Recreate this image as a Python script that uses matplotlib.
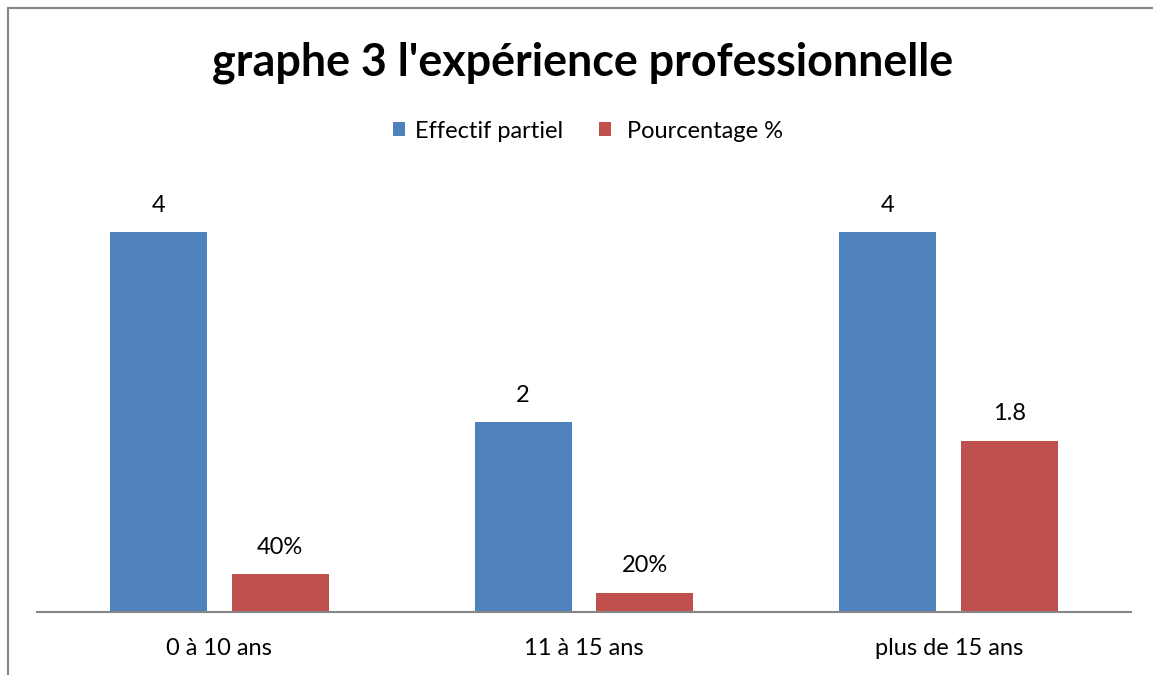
import numpy as np
import matplotlib.pyplot as plt
from matplotlib.lines import Line2D

# --- DATA ----------------------------------------------------------
categories = ["0 à 10 ans", "11 à 15 ans", "plus de 15 ans"]
effectif = [4, 2, 4]
pourcentage = [0.4, 0.2, 1.8]
effectif_labels = ["4", "2", "4"]
pourcentage_labels = ["40%", "20%", "1.8"]

# --- PLOT ----------------------------------------------------------
plt.rcParams['font.family'] = ['Lato', 'DejaVu Sans']

fig = plt.figure(figsize=(11.53, 6.75), dpi=100)
ax = fig.add_axes([37/1153, 1 - 612/675, (1131-37)/1153, (612-184.5)/675])

x = np.arange(len(categories))
w = 0.266
off = 0.167
blue = "#4F81BD"
red = "#C0504D"

b1 = ax.bar(x - off, effectif, w, color=blue, label="Effectif partiel")
b2 = ax.bar(x + off, pourcentage, w, color=red, label=" Pourcentage %")

for bars, labels in [(b1, effectif_labels), (b2, pourcentage_labels)]:
    for bar, lab in zip(bars, labels):
        ax.annotate(lab, (bar.get_x() + bar.get_width()/2, bar.get_height()),
                    xytext=(0, 27), textcoords="offset pixels",
                    ha="center", va="center", fontsize=17)

ax.set_xlim(-0.5, 2.5)
ax.set_ylim(0, 4.5)
ax.set_xticks(x)
ax.set_xticklabels(categories, fontsize=17)
ax.tick_params(axis="x", length=0, pad=19)
ax.set_yticks([])
for s in ["top", "right", "left"]:
    ax.spines[s].set_visible(False)
ax.spines["bottom"].set_color("#868686")
ax.spines["bottom"].set_linewidth(1.5)

fig.text(583/1153, 1 - 63/675, "graphe 3 l'expérience professionnelle",
         ha="center", va="center", fontsize=32.3, fontweight="bold")

fig.legend(handles=[b1, b2], loc="center", bbox_to_anchor=(588/1153, 1 - 131/675),
           ncol=2, frameon=False, fontsize=17, handlelength=0.5,
           handleheight=0.5, handletextpad=0.42, columnspacing=1.55)

# chart border (left and top only visible)
fig.add_artist(Line2D([8/1153, 8/1153], [0, 1 - 8/675], color="#868686", lw=1.5))
fig.add_artist(Line2D([8/1153, 1], [1 - 8/675, 1 - 8/675], color="#868686", lw=1.5))

fig.savefig("out.png", dpi=100)
